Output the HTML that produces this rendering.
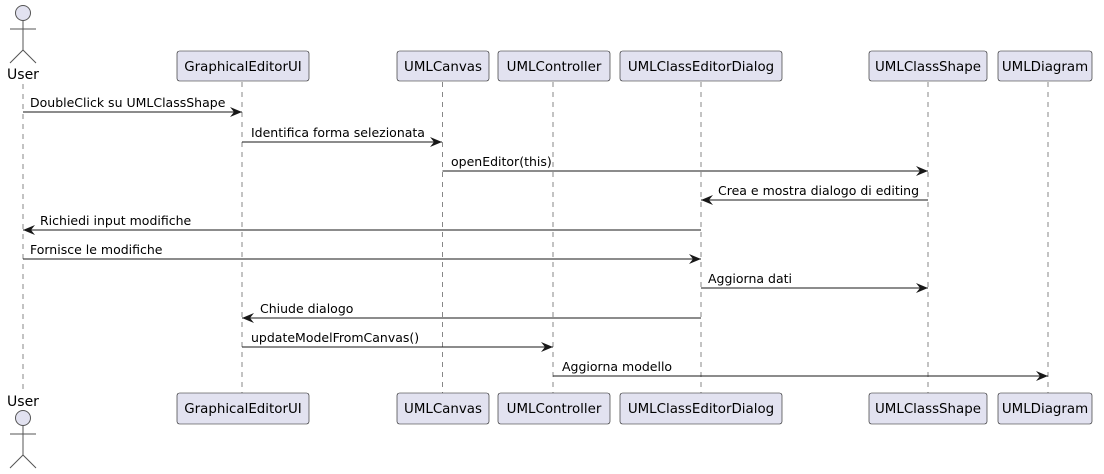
<!DOCTYPE html>
<html><head><meta charset="utf-8"><style>
html,body{margin:0;padding:0;background:#fff;}
svg{display:block;}
text{font-family:"DejaVu Sans","Liberation Sans",sans-serif;font-size:12.5px;fill:#000;}
.box{fill:#E2E2F0;stroke:#181818;stroke-width:0.6;}
.bt{font-size:13.4px;}
.ll{stroke:#555;stroke-width:0.7;stroke-dasharray:5,5;}
.m{stroke:#181818;stroke-width:1;}
.act{fill:#E2E2F0;stroke:#555;stroke-width:1;}
.al{stroke:#555;stroke-width:1;fill:none;}
</style></head><body>
<svg width="1104" height="474" viewBox="0 0 1104 474" xmlns="http://www.w3.org/2000/svg">
<defs>
<marker id="a" viewBox="0 0 13 10" refX="12" refY="5" markerWidth="13" markerHeight="10" markerUnits="userSpaceOnUse" orient="auto">
<path d="M0,0 L12,5 L0,10 L4,5 Z" fill="#181818"/>
</marker>
</defs>
<line class="ll" x1="23" y1="84" x2="23" y2="392"/>
<line class="ll" x1="242" y1="82" x2="242" y2="393"/>
<line class="ll" x1="442.5" y1="82" x2="442.5" y2="393"/>
<line class="ll" x1="553" y1="82" x2="553" y2="393"/>
<line class="ll" x1="701" y1="82" x2="701" y2="393"/>
<line class="ll" x1="928" y1="82" x2="928" y2="393"/>
<line class="ll" x1="1048" y1="82" x2="1048" y2="393"/>

<circle class="act" cx="23" cy="13" r="7.5"/>
<line class="al" x1="23" y1="20.5" x2="23" y2="50"/>
<line class="al" x1="10" y1="29" x2="36" y2="29"/>
<path class="al" d="M10,63 L23,50 L36,63"/>
<text x="23" y="79" text-anchor="middle" style="font-size:14px">User</text>
<text x="23" y="406" text-anchor="middle" style="font-size:14px">User</text>
<circle class="act" cx="23" cy="418" r="7.5"/>
<line class="al" x1="23" y1="425.5" x2="23" y2="455"/>
<line class="al" x1="10" y1="434" x2="36" y2="434"/>
<path class="al" d="M10,468 L23,455 L36,468"/>

<g class="bt">
<rect class="box" x="177" y="51" width="132" height="30" rx="2.5"/><text class="bt" x="243" y="71" text-anchor="middle">GraphicalEditorUI</text>
<rect class="box" x="397" y="51" width="92" height="30" rx="2.5"/><text class="bt" x="443" y="71" text-anchor="middle">UMLCanvas</text>
<rect class="box" x="498" y="51" width="112" height="30" rx="2.5"/><text class="bt" x="554" y="71" text-anchor="middle">UMLController</text>
<rect class="box" x="620" y="51" width="162" height="30" rx="2.5"/><text class="bt" x="701" y="71" text-anchor="middle">UMLClassEditorDialog</text>
<rect class="box" x="869" y="51" width="118" height="30" rx="2.5"/><text class="bt" x="928" y="71" text-anchor="middle">UMLClassShape</text>
<rect class="box" x="998" y="51" width="94" height="30" rx="2.5"/><text class="bt" x="1045" y="71" text-anchor="middle">UMLDiagram</text>
</g>
<g>
<rect class="box" x="177" y="393" width="132" height="31" rx="2.5"/><text class="bt" x="243" y="413" text-anchor="middle">GraphicalEditorUI</text>
<rect class="box" x="397" y="393" width="92" height="31" rx="2.5"/><text class="bt" x="443" y="413" text-anchor="middle">UMLCanvas</text>
<rect class="box" x="498" y="393" width="112" height="31" rx="2.5"/><text class="bt" x="554" y="413" text-anchor="middle">UMLController</text>
<rect class="box" x="620" y="393" width="162" height="31" rx="2.5"/><text class="bt" x="701" y="413" text-anchor="middle">UMLClassEditorDialog</text>
<rect class="box" x="869" y="393" width="118" height="31" rx="2.5"/><text class="bt" x="928" y="413" text-anchor="middle">UMLClassShape</text>
<rect class="box" x="998" y="393" width="94" height="31" rx="2.5"/><text class="bt" x="1045" y="413" text-anchor="middle">UMLDiagram</text>
</g>

<line class="m" x1="23" y1="112" x2="242" y2="112" marker-end="url(#a)"/>
<text x="30" y="107">DoubleClick su UMLClassShape</text>
<line class="m" x1="242" y1="142" x2="442" y2="142" marker-end="url(#a)"/>
<text x="251" y="137">Identifica forma selezionata</text>
<line class="m" x1="442.5" y1="171" x2="928" y2="171" marker-end="url(#a)"/>
<text x="451" y="166">openEditor(this)</text>
<line class="m" x1="928" y1="200" x2="701" y2="200" marker-end="url(#a)"/>
<text x="718" y="195">Crea e mostra dialogo di editing</text>
<line class="m" x1="701" y1="230" x2="23" y2="230" marker-end="url(#a)"/>
<text x="40" y="225">Richiedi input modifiche</text>
<line class="m" x1="23" y1="259" x2="701" y2="259" marker-end="url(#a)"/>
<text x="30" y="254">Fornisce le modifiche</text>
<line class="m" x1="701" y1="288" x2="928" y2="288" marker-end="url(#a)"/>
<text x="708" y="283">Aggiorna dati</text>
<line class="m" x1="701" y1="318" x2="242" y2="318" marker-end="url(#a)"/>
<text x="260" y="313">Chiude dialogo</text>
<line class="m" x1="242" y1="347" x2="553" y2="347" marker-end="url(#a)"/>
<text x="251" y="342">updateModelFromCanvas()</text>
<line class="m" x1="553" y1="376" x2="1048" y2="376" marker-end="url(#a)"/>
<text x="562" y="371">Aggiorna modello</text>
</svg>
</body></html>
